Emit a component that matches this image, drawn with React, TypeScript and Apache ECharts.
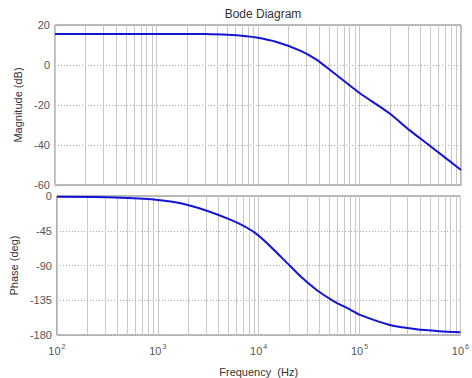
import React, { useEffect, useRef } from "react";
import * as echarts from "echarts";

// Frequencies (Hz) and magnitude (dB)
const magFreq = [100, 1000, 2000, 3000, 5000, 7700, 9700, 15000, 26000, 38000, 51000, 100000, 160000, 200000, 315000, 500000, 1000000];
const magDb = [15.5, 15.5, 15.5, 15.45, 15.1, 14.4, 13.7, 11.6, 7.2, 2.6, -2.4, -14.0, -20.9, -24.4, -32.8, -40.6, -52.5];

// Frequencies (Hz) and phase (deg)
const phFreq = [100, 316, 863, 1986, 5300, 9700, 20650, 25940, 37840, 55200, 80540, 101160, 199500, 366400, 620900, 1000000];
const phDeg = [-1, -1.5, -4.3, -11.6, -31, -50, -91, -104, -122, -136, -147, -154, -167, -172.5, -175, -176.5];

const magTicks = { min: -60, max: 20, interval: 20 };
const phTicks = { min: -180, max: 0, interval: 45 };
const decades = [2, 3, 4, 5];

const minorGridFreqs: number[] = [];
decades.forEach((d) => {
  for (let k = 2; k <= 9; k++) minorGridFreqs.push(k * Math.pow(10, d));
});

const FONT = "Liberation Sans";
const TXT = "#555";
const LINE = "#1414d8";

export default function App() {
  const ref = useRef<HTMLDivElement>(null);
  useEffect(() => {
    document.body.style.margin = "0";
    const chart = echarts.init(ref.current!, null, { renderer: "svg" });
    const xBase = (gi: number, showLabel: boolean) => ({
      type: "log",
      logBase: 10,
      gridIndex: gi,
      min: 100,
      max: 1000000,
      axisLine: { show: false },
      axisTick: { show: false },
      splitLine: { show: true, lineStyle: { color: "#c8c8c8", width: 1, type: "solid" } },
      axisLabel: {
        show: showLabel,
        margin: 8,
        formatter: (v: number) => `{b|10}{s|${Math.round(Math.log10(v))}}`,
        rich: {
          b: { fontFamily: FONT, fontSize: 11, color: TXT },
          s: { fontFamily: FONT, fontSize: 7, color: TXT, padding: [0, 0, 8, 1] },
        },
      },
      name: showLabel ? "Frequency  (Hz)" : "",
      nameLocation: "middle",
      nameGap: 31,
      nameTextStyle: { fontFamily: FONT, fontSize: 11, color: "#333" },
    });
    const yBase = (gi: number, t: any, name: string, gap: number) => ({
      type: "value",
      gridIndex: gi,
      min: t.min,
      max: t.max,
      interval: t.interval,
      axisLine: { show: false },
      axisTick: { show: false },
      splitLine: { show: true, lineStyle: { color: "#a8a8a8", width: 1, type: [1, 2] } },
      axisLabel: { fontFamily: FONT, fontSize: 11, color: TXT, margin: 5 },
      name,
      nameLocation: "middle",
      nameRotate: 90,
      nameGap: gap,
      nameTextStyle: { fontFamily: FONT, fontSize: 11, color: "#333" },
    });
    const minorSeries = (gi: number) => ({
      type: "line",
      xAxisIndex: gi,
      yAxisIndex: gi,
      data: gi === 0 ? magFreq.map((f, i) => [f, magDb[i]]) : phFreq.map((f, i) => [f, phDeg[i]]),
      lineStyle: { opacity: 0 },
      showSymbol: false,
      silent: true,
      z: 1,
      markLine: {
        silent: true,
        symbol: "none",
        label: { show: false },
        lineStyle: { color: "#c8c8c8", width: 1, type: "solid" },
        data: minorGridFreqs.map((f) => ({ xAxis: f })),
      },
    });
    chart.setOption({
      animation: false,
      backgroundColor: "#fff",
      title: {
        text: "Bode Diagram",
        left: 258,
        top: 3,
        textAlign: "center",
        textStyle: { fontFamily: FONT, fontSize: 12, fontWeight: "normal", color: "#333" },
      },
      grid: [
        { left: 55, right: 11, top: 25, height: 160, show: true, borderColor: "#777", borderWidth: 1, backgroundColor: "transparent" },
        { left: 55, right: 11, top: 196, height: 140, show: true, borderColor: "#777", borderWidth: 1, backgroundColor: "transparent" },
      ],
      xAxis: [xBase(0, false), xBase(1, true)],
      yAxis: [yBase(0, magTicks, "Magnitude (dB)", 30), yBase(1, phTicks, "Phase (deg)", 36)],
      series: [
        minorSeries(0),
        minorSeries(1),
        {
          type: "line",
          xAxisIndex: 0,
          yAxisIndex: 0,
          data: magFreq.map((f, i) => [f, magDb[i]]),
          smooth: 0.25,
          showSymbol: false,
          lineStyle: { color: LINE, width: 2 },
          z: 5,
        },
        {
          type: "line",
          xAxisIndex: 1,
          yAxisIndex: 1,
          data: phFreq.map((f, i) => [f, phDeg[i]]),
          smooth: 0.25,
          showSymbol: false,
          lineStyle: { color: LINE, width: 2 },
          z: 5,
        },
      ],
    });
    return () => chart.dispose();
  }, []);
  return <div ref={ref} style={{ width: 472, height: 378 }} />;
}
